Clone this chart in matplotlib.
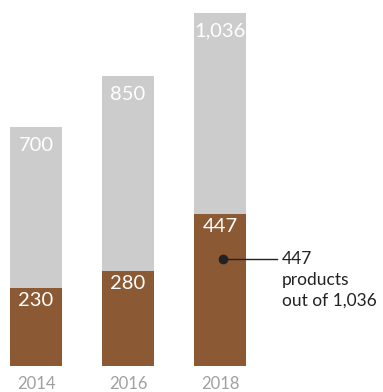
import matplotlib
matplotlib.use("Agg")
import matplotlib.pyplot as plt

years = ["2014", "2016", "2018"]
totals = [700, 850, 1036]
selected = [230, 280, 447]
total_labels = ["700", "850", "1,036"]
selected_labels = ["230", "280", "447"]
note_lines = ["447", "products", "out of 1,036"]

grey = "#cbcccb"
brown = "#8b5a34"

plt.rcParams['font.family'] = ['Lato', 'DejaVu Sans']

fig = plt.figure(figsize=(3.83, 3.92), dpi=100)
ax = fig.add_axes([0, 26 / 392, 1, 366 / 392])
ax.set_xlim(-36 / 92, (383 - 36) / 92)
ax.set_ylim(0, 366 / 0.341)
ax.axis("off")

x = range(len(years))
w = 52 / 92
ax.bar(x, totals, width=w, color=grey)
ax.bar(x, selected, width=w, color=brown)

for i in x:
    ax.annotate(total_labels[i], (i, totals[i]), xytext=(0, -13), textcoords="offset points",
                ha="center", va="center", color="white", fontsize=14.5)
    ax.annotate(selected_labels[i], (i, selected[i]), xytext=(0, -9.5), textcoords="offset points",
                ha="center", va="center", color="white", fontsize=14.5)
    ax.annotate(years[i], (i, 0), xytext=(0, -13), textcoords="offset points",
                ha="center", va="center", color="#a0a0a0", fontsize=12,
                annotation_clip=False)

# callout on the latest bar
dot_y = selected[-1] * 0.7
ax.plot([2.03, 2.62], [dot_y, dot_y], color="#222222", lw=1)
ax.plot([2.03], [dot_y], "o", color="#222222", ms=6)
for k, line in enumerate(note_lines):
    ax.annotate(line, (2.675, dot_y), xytext=(0, -15 * k), textcoords="offset points",
                ha="left", va="center", fontsize=12.5, color="#222222")

fig.savefig("out.png", dpi=100)
